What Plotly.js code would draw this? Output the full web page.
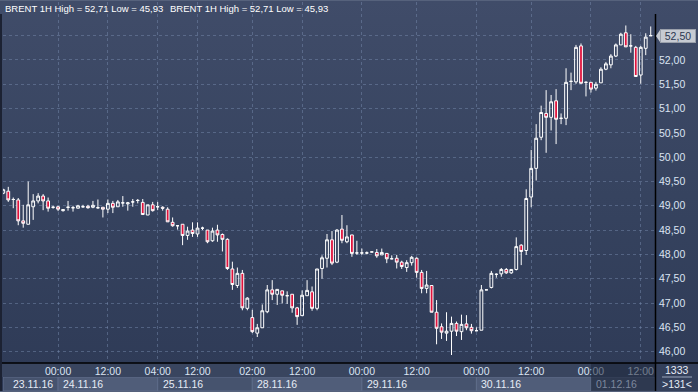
<!DOCTYPE html>
<html>
<head>
<meta charset="utf-8">
<script src="https://cdn.plot.ly/plotly-3.0.1.min.js"></script>
<style>
html,body{margin:0;padding:0;width:698px;height:392px;overflow:hidden;}
#chart{width:698px;height:392px;background:linear-gradient(to bottom,#404c69 0%,#36435f 50%,#2e3a56 100%);}
</style>
</head>
<body>
<div id="chart"></div>
<script>
// ---- data (hourly BRENT candles) ----
const openV = [49.26,49.30,49.13,49.12,48.69,48.62,48.98,49.10,49.20,49.10,
48.97,48.98,48.90,48.97,48.96,48.95,48.98,48.99,48.97,48.96,
48.97,48.93,49.05,48.98,49.06,49.04,49.08,49.11,49.07,48.81,
49.02,48.98,48.97,48.93,48.66,48.59,48.62,48.39,48.50,48.42,
48.54,48.50,48.28,48.50,48.41,48.31,47.70,47.36,47.61,46.89,
46.70,46.38,46.49,46.82,47.27,47.18,47.25,47.15,47.18,46.90,
46.74,47.15,47.23,46.89,47.71,47.92,48.30,47.84,48.52,48.26,
48.40,48.03,48.03,48.03,48.05,48.04,47.99,48.02,47.91,47.92,
47.84,47.73,47.83,47.92,47.63,47.30,47.36,46.81,46.51,46.38,
46.42,46.58,46.41,46.57,46.50,46.43,46.44,47.27,47.32,47.59,
47.60,47.69,47.62,47.69,48.19,48.08,49.18,49.77,50.41,50.90,
50.82,51.16,50.80,50.80,51.56,51.55,52.29,51.54,51.54,51.42,
51.53,51.81,51.90,52.08,52.31,52.56,52.29,52.26,51.69,52.24,
52.50];
const highV = [49.35,49.39,49.17,49.16,49.02,49.50,49.24,49.26,49.24,49.17,
49.00,49.00,48.93,49.10,49.00,49.02,49.02,49.02,49.10,49.13,
48.97,49.13,49.10,49.12,49.20,49.08,49.14,49.14,49.14,49.02,
49.08,49.08,48.99,48.97,48.76,48.59,48.62,48.57,48.66,48.66,
48.57,48.50,48.55,48.61,48.43,48.33,47.85,47.73,47.68,47.12,
46.86,46.57,46.97,47.37,47.47,47.28,47.25,47.24,47.18,46.92,
47.26,47.47,47.34,47.70,47.98,48.42,48.48,48.52,48.81,48.60,
48.40,48.28,48.12,48.06,48.05,48.11,48.12,48.02,47.98,47.99,
47.87,47.88,47.97,47.94,47.68,47.66,47.37,47.06,46.58,46.81,
46.72,46.62,46.76,46.75,46.57,46.50,47.37,47.27,47.66,47.61,
47.72,47.72,47.69,48.35,48.21,49.34,50.15,50.68,51.06,51.38,
51.28,51.40,50.90,51.83,51.74,52.31,52.34,51.56,51.54,51.55,
51.85,51.96,52.12,52.34,52.56,52.71,52.53,52.29,52.29,52.55,
52.69];
const lowV = [49.24,49.08,48.95,48.60,48.55,48.62,48.71,49.05,48.91,48.88,
48.94,48.89,48.88,48.90,48.88,48.95,48.96,48.94,48.95,48.94,
48.76,48.85,48.85,48.98,48.98,48.90,48.98,49.05,48.82,48.81,
48.88,48.91,48.90,48.67,48.57,48.51,48.19,48.30,48.36,48.36,
48.50,48.23,48.26,48.26,48.06,47.68,47.27,47.31,46.85,46.85,
46.38,46.30,46.49,46.79,47.06,46.96,46.99,46.98,46.80,46.55,
46.74,47.15,46.84,46.85,47.50,47.73,47.78,47.82,48.23,48.23,
47.95,47.99,47.99,48.00,48.05,47.93,47.99,47.82,47.90,47.71,
47.70,47.64,47.77,47.52,47.20,47.20,46.81,46.15,46.26,46.22,
45.93,46.32,46.24,46.44,46.37,46.42,46.44,47.27,47.30,47.52,
47.54,47.60,47.60,47.67,47.78,47.99,48.97,49.52,50.35,50.09,
50.55,50.27,50.68,50.66,51.38,51.51,51.52,51.25,51.33,51.37,
51.53,51.79,51.83,52.06,52.31,52.27,52.15,51.66,51.51,52.10,
52.50];
const closeV = [49.33,49.12,49.13,48.69,48.64,49.02,49.10,49.20,49.10,48.95,
48.97,48.93,48.92,48.97,48.96,49.00,48.98,48.96,49.01,48.96,
48.93,49.05,48.97,49.08,49.06,49.06,49.08,49.11,48.82,49.02,
48.90,48.98,48.95,48.67,48.59,48.59,48.39,48.48,48.43,48.54,
48.54,48.26,48.48,48.40,48.31,47.71,47.38,47.61,46.90,47.10,
46.41,46.49,46.84,47.27,47.18,47.28,47.16,47.15,46.90,46.72,
47.16,47.26,46.89,47.70,47.93,48.30,47.82,48.50,48.29,48.36,
48.02,48.03,48.03,48.03,48.05,47.97,48.04,47.91,47.91,47.84,
47.75,47.83,47.94,47.63,47.30,47.37,46.81,46.48,46.40,46.42,
46.58,46.42,46.56,46.49,46.43,46.43,47.27,47.27,47.61,47.59,
47.69,47.62,47.69,48.16,48.06,49.15,49.77,50.39,50.92,50.82,
51.14,50.78,50.80,51.54,51.56,52.26,51.52,51.54,51.40,51.50,
51.81,51.92,52.08,52.31,52.53,52.27,52.29,51.66,52.26,52.47,
52.50];

const timeTickLabels = ['00:00','12:00','04:00','12:00','02:00','12:00','00:00','12:00','00:00','12:00','00:00','12:00'];
const timeTickBars   = [11,21,31,39,50,60,72,83,95,106,118,128];
const dateLabels     = ['23.11.16','24.11.16','25.11.16','28.11.16','29.11.16','30.11.16','01.12.16'];
const dateStartBars  = [0,11,31,50,72,95,118];
const priceTicks     = [46,46.5,47,47.5,48,48.5,49,49.5,50,50.5,51,51.5,52,52.5];
const priceTickText  = ['46,00','46,50','47,00','47,50','48,00','48,50','49,00','49,50','50,00','50,50','51,00','51,50','52,00',''];
const headerText     = 'BRENT 1H High = 52,71 Low = 45,93';
const lastPriceText  = '52,50';
const lastPrice      = 52.50;
const barCountText   = '>131<';
const volumeText     = '1333';

const xIdx = openV.map((_, i) => i);

// ---- layout helpers (pixel -> paper) ----
const L = 3, R = 655, T = 2, B = 362;
const px = v => (v - L) / (R - L);
const py = v => (B - v) / (B - T);
const FONT = 'Liberation Sans, Arial, sans-serif';
const LBL = '#dbe4f2';

const trace = {
  type: 'candlestick',
  x: xIdx, open: openV, high: highV, low: lowV, close: closeV,
  increasing: {line: {color: '#ffffff', width: 1}, fillcolor: 'rgba(0,0,0,0)'},
  decreasing: {line: {color: '#ffffff', width: 1}, fillcolor: '#e0123c'},
  whiskerwidth: 0,
  hoverinfo: 'skip'
};

const shapes = [];
const shades = ['#46536e', '#505d79'];
const lastBar = 130.86;
for (let i = 0; i < dateStartBars.length; i++) {
  const x0 = i === 0 ? -0.06 : dateStartBars[i];
  const x1 = i + 1 < dateStartBars.length ? dateStartBars[i + 1] : lastBar;
  shapes.push({type: 'rect', xref: 'x', yref: 'paper', x0: x0, x1: x1,
    y0: py(377), y1: py(391), fillcolor: shades[i % 2],
    line: {color: 'rgba(95,110,140,0.9)', width: 1}, layer: 'below'});
}
shapes.push({type: 'rect', xref: 'paper', yref: 'paper', x0: px(0), x1: px(655), y0: py(363), y1: py(377),
  fillcolor: '#39455f', line: {width: 0}, layer: 'below'});
shapes.push({type: 'rect', xref: 'x', yref: 'paper', x0: dateStartBars[6], x1: lastBar, y0: py(392), y1: py(363),
  fillcolor: 'rgba(28,36,56,0.55)', line: {width: 0}, layer: 'above'});
shapes.push({type: 'rect', xref: 'paper', yref: 'paper', x0: px(655), x1: px(698), y0: py(392), y1: py(363),
  fillcolor: '#34405b', line: {width: 0}, layer: 'below'});
shapes.push({type: 'line', xref: 'paper', yref: 'paper', x0: px(662), x1: px(692), y0: py(377), y1: py(377),
  line: {color: '#9aa6bd', width: 1}});
shapes.push({type: 'line', xref: 'paper', yref: 'paper', x0: px(0), x1: px(698), y0: py(363), y1: py(363),
  line: {color: '#000000', width: 1.5}});
shapes.push({type: 'line', xref: 'paper', yref: 'paper', x0: px(655.5), x1: px(655.5), y0: py(392), y1: py(14),
  line: {color: '#000000', width: 1.5}});
shapes.push({type: 'line', xref: 'paper', yref: 'paper', x0: px(1), x1: px(1), y0: py(392), y1: py(14),
  line: {color: '#1c2233', width: 2}});
shapes.push({type: 'line', xref: 'paper', yref: 'paper', x0: px(0), x1: px(698), y0: py(0.5), y1: py(0.5),
  line: {color: '#56627c', width: 1}});
shapes.push({type: 'line', xref: 'paper', yref: 'paper', x0: px(0), x1: px(698), y0: py(391.5), y1: py(391.5),
  line: {color: '#56627c', width: 1}});
shapes.push({type: 'path', xref: 'paper', yref: 'paper',
  path: 'M' + px(656) + ',' + py(36) + ' L' + px(660) + ',' + py(30) + ' L' + px(660) + ',' + py(42) + ' Z',
  fillcolor: '#c6cad2', line: {width: 0}, layer: 'above'});

const annotations = [];
annotations.push({xref: 'paper', yref: 'paper', x: px(3), y: py(8), xanchor: 'left', yanchor: 'middle',
  text: headerText, showarrow: false, font: {family: FONT, size: 9.5, color: '#ffffff'}});
annotations.push({xref: 'paper', yref: 'paper', x: px(168), y: py(8), xanchor: 'left', yanchor: 'middle',
  text: headerText, showarrow: false, font: {family: FONT, size: 9.5, color: '#ffffff'}});
for (let i = 0; i < dateLabels.length; i++) {
  annotations.push({xref: 'x', yref: 'paper', x: i === 0 ? 1 : dateStartBars[i], y: py(384),
    xanchor: 'left', yanchor: 'middle', xshift: 3, text: dateLabels[i], showarrow: false,
    font: {family: FONT, size: 10.5, color: i === 6 ? '#7d889e' : '#e6ecf6'}});
}
annotations.push({xref: 'paper', yref: 'paper', x: px(677), y: py(370), xanchor: 'center', yanchor: 'middle',
  text: volumeText, showarrow: false, font: {family: FONT, size: 10.5, color: '#e6ecf6'}});
annotations.push({xref: 'paper', yref: 'paper', x: px(677), y: py(384), xanchor: 'center', yanchor: 'middle',
  text: barCountText, showarrow: false, font: {family: FONT, size: 10.5, color: '#e6ecf6'}});
annotations.push({xref: 'paper', yref: 'y', x: px(660), y: lastPrice, xanchor: 'left', yanchor: 'middle',
  text: lastPriceText, showarrow: false, bgcolor: '#c6cad2', bordercolor: '#9aa0ab', borderwidth: 1, borderpad: 0,
  width: 34, height: 12, font: {family: FONT, size: 10.5, color: '#2b3650'}});

const layout = {
  width: 698, height: 392,
  margin: {l: L, r: 698 - R, t: T, b: 392 - B, pad: 0},
  paper_bgcolor: 'rgba(0,0,0,0)', plot_bgcolor: 'rgba(0,0,0,0)',
  separators: ',.',
  showlegend: false,
  hovermode: false,
  dragmode: false,
  boxgap: 0.2,
  xaxis: {
    range: [-0.06, lastBar], rangeslider: {visible: false},
    tickmode: 'array', tickvals: timeTickBars, ticktext: timeTickLabels,
    showgrid: true, gridcolor: 'rgba(125,145,180,0.45)', griddash: '3px,3px', gridwidth: 1,
    zeroline: false, showline: false, ticks: '',
    tickfont: {family: FONT, size: 10.5, color: LBL},
    ticklabelstandoff: 1, fixedrange: true
  },
  yaxis: {
    side: 'right', range: [45.786, 53.193],
    tickmode: 'array', tickvals: priceTicks, ticktext: priceTickText,
    showgrid: true, gridcolor: 'rgba(125,145,180,0.45)', griddash: '3px,3px', gridwidth: 1,
    zeroline: false, showline: false, ticks: '',
    tickfont: {family: FONT, size: 10.5, color: LBL},
    ticklabelstandoff: 3, fixedrange: true
  },
  shapes: shapes,
  annotations: annotations
};

Plotly.newPlot('chart', [trace], layout, {displayModeBar: false, staticPlot: true});
</script>
</body>
</html>
